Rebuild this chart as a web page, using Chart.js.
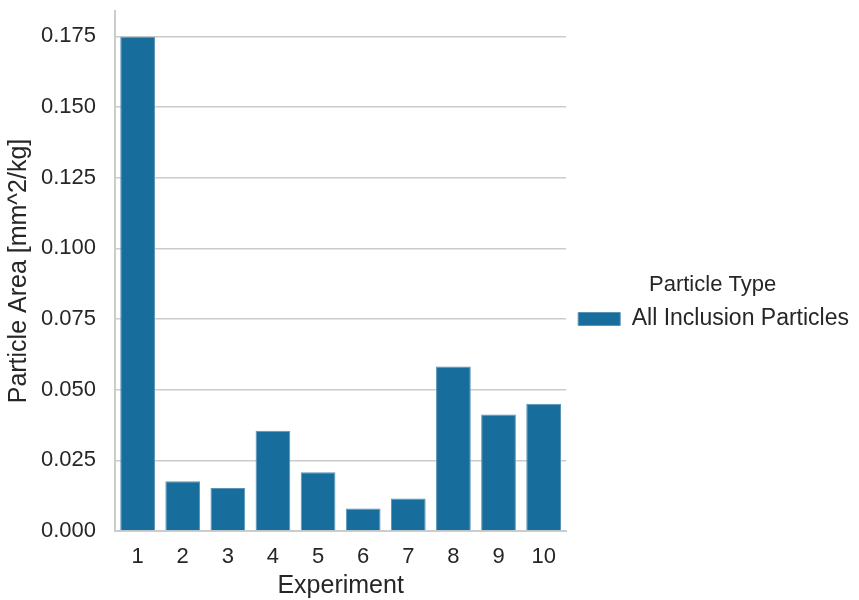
<!DOCTYPE html>
<html>
<head>
<meta charset="utf-8">
<title>Particle Area</title>
<script src="https://cdn.jsdelivr.net/npm/chart.js@4.4.1/dist/chart.umd.min.js"></script>
<style>
  html, body { margin: 0; padding: 0; background: #ffffff; }
  #wrap { position: relative; width: 859px; height: 600px; }
</style>
</head>
<body>
<div id="wrap"><canvas id="chart"></canvas></div>
<script>
// data
const experiments = ['1', '2', '3', '4', '5', '6', '7', '8', '9', '10'];
const particleArea = [0.1749, 0.0176, 0.0152, 0.0355, 0.0208, 0.0080, 0.0115, 0.0582, 0.0412, 0.0450];
const seriesName = 'All Inclusion Particles';
const legendTitle = 'Particle Type';

Chart.defaults.font.family = '"Liberation Sans", Arial, sans-serif';
Chart.defaults.color = '#262626';

const config = {
  type: 'bar',
  data: {
    labels: experiments,
    datasets: [{
      label: seriesName,
      data: particleArea,
      backgroundColor: '#176d9c',
      borderColor: '#5a93b9',
      borderWidth: 1,
      barPercentage: 0.77,
      categoryPercentage: 1.0
    }]
  },
  options: {
    responsive: true,
    maintainAspectRatio: false,
    animation: false,
    layout: { padding: { left: 0, right: 0, top: 10, bottom: 1 } },
    scales: {
      x: {
        grid: { display: false, drawTicks: true, tickLength: 15 },
        border: { display: true, color: '#cccccc', width: 2 },
        ticks: { font: { size: 22, lineHeight: 1 }, padding: 0, color: '#262626' },
        title: {
          display: true,
          text: 'Experiment',
          font: { size: 25, lineHeight: 1 },
          padding: { top: 6, bottom: 0 },
          color: '#262626'
        }
      },
      y: {
        min: 0,
        max: 0.184,
        grid: { color: '#cccccc', lineWidth: 1.5, drawTicks: true, tickLength: 19, tickColor: 'rgba(0,0,0,0)' },
        border: { display: true, color: '#cccccc', width: 2 },
        ticks: {
          stepSize: 0.025,
          includeBounds: false,
          padding: 0,
          font: { size: 22, lineHeight: 1 },
          color: '#262626',
          callback: v => v.toFixed(3)
        },
        title: {
          display: true,
          text: 'Particle Area [mm^2/kg]',
          font: { size: 25, lineHeight: 1 },
          padding: { top: 7, bottom: 9 },
          color: '#262626'
        }
      }
    },
    plugins: {
      tooltip: { enabled: false },
      legend: {
        display: true,
        position: 'right',
        align: 'center',
        maxWidth: 330,
        title: {
          display: true,
          text: legendTitle,
          font: { size: 22, lineHeight: 1 },
          color: '#262626',
          padding: { top: 7, bottom: 0 }
        },
        labels: {
          boxWidth: 42,
          boxHeight: 13,
          padding: 12,
          font: { size: 23 },
          color: '#262626'
        }
      }
    }
  }
};

new Chart(document.getElementById('chart').getContext('2d'), config);
</script>
</body>
</html>
